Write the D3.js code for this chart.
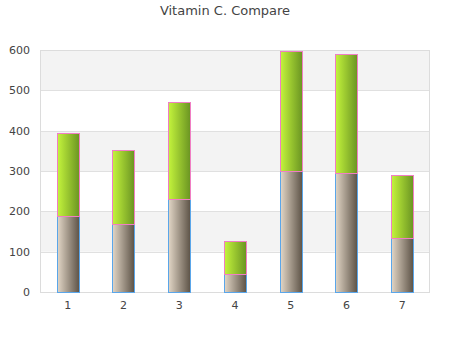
<!DOCTYPE html>
<html><head><meta charset="utf-8">
<script src="https://cdn.jsdelivr.net/npm/d3@7"></script>
<style>body{margin:0;background:#fff}svg{display:block}</style>
</head><body>
<svg id="c" width="450" height="350"></svg>
<script>
const categories = ["1","2","3","4","5","6","7"];
const seriesBase = [188,168,230,44,300,295,133];
const seriesTop = [205,185,241,82,297,295,157];
const yTicks = [0,100,200,300,400,500,600];
const title = "Vitamin C. Compare";

const svg = d3.select("#c");
const m = {l:40, r:430, t:50, b:292};
const x = d3.scaleBand().domain(categories).range([m.l, m.r]).paddingInner(0.6).paddingOuter(0.3);
const y = d3.scaleLinear().domain([0,600]).range([m.b, m.t]);

const defs = svg.append("defs");
function grad(id, c1, c2){
  const g = defs.append("linearGradient").attr("id", id).attr("x1","0").attr("x2","1").attr("y1","0").attr("y2","0");
  g.append("stop").attr("offset","0").attr("stop-color",c1);
  g.append("stop").attr("offset","1").attr("stop-color",c2);
}
grad("gBase","#e2d6c6","#5c5246");
grad("gTop","#c4f43c","#6a9422");

svg.append("text").attr("x",225).attr("y",15).attr("text-anchor","middle")
  .attr("font-family","DejaVu Sans, sans-serif").attr("font-size",13).attr("fill","#444").text(title);

for (let i=0;i<yTicks.length-1;i++){
  svg.append("rect").attr("x",m.l).attr("width",m.r-m.l)
    .attr("y",y(yTicks[i+1])).attr("height",y(yTicks[i])-y(yTicks[i+1]))
    .attr("fill", i%2===1 ? "#f3f3f3" : "#fff");
}
svg.append("g").selectAll("line").data(yTicks).join("line")
  .attr("x1",m.l).attr("x2",m.r).attr("y1",d=>Math.round(y(d))+0.5).attr("y2",d=>Math.round(y(d))+0.5)
  .attr("stroke","#e0e0e0").attr("stroke-width",1);
svg.append("rect").attr("x",m.l+0.5).attr("y",m.t+0.5).attr("width",m.r-m.l-1).attr("height",m.b-m.t)
  .attr("fill","none").attr("stroke","#dcdcdc");

const bw = Math.round(x.bandwidth());
const bx = d => Math.round(x(d)) + 0.5;
const py = v => Math.round(y(v)) + 0.5;
svg.append("g").selectAll("rect").data(categories).join("rect")
  .attr("x",bx).attr("width",bw)
  .attr("y",(d,i)=>py(seriesBase[i])).attr("height",(d,i)=>py(0)-py(seriesBase[i]))
  .attr("fill","url(#gBase)").attr("stroke","#5aa6ea").attr("stroke-width",1);
svg.append("g").selectAll("rect").data(categories).join("rect")
  .attr("x",bx).attr("width",bw)
  .attr("y",(d,i)=>py(seriesBase[i]+seriesTop[i])).attr("height",(d,i)=>py(seriesBase[i])-py(seriesBase[i]+seriesTop[i]))
  .attr("fill","url(#gTop)").attr("stroke","#f07ec4").attr("stroke-width",1);

const yAxis = d3.axisLeft(y).tickValues(yTicks).tickSize(0).tickPadding(10);
const gy = svg.append("g").attr("transform",`translate(${m.l},0)`).call(yAxis);
gy.select(".domain").remove();
gy.selectAll("text").attr("font-family","DejaVu Sans, sans-serif").attr("font-size",11).attr("fill","#444");
const xAxis = d3.axisBottom(x).tickSize(0).tickPadding(9);
const gx = svg.append("g").attr("transform",`translate(0,${m.b})`).call(xAxis);
gx.select(".domain").remove();
gx.selectAll("text").attr("font-family","DejaVu Sans, sans-serif").attr("font-size",11).attr("fill","#444");
</script>
</body></html>
